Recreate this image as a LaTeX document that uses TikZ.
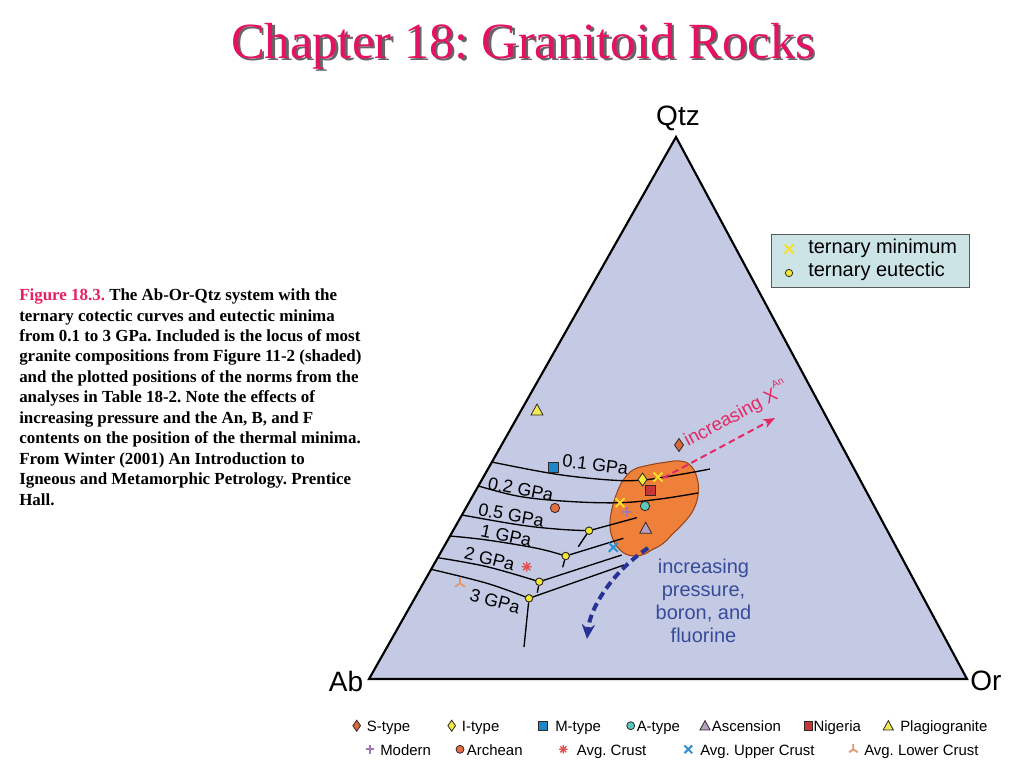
\documentclass[tikz,border=0pt]{standalone}
\usepackage{fontspec}
\setmainfont{Liberation Serif}
\setsansfont{Liberation Sans}
\usetikzlibrary{arrows.meta,shapes.geometric}
\frenchspacing
\definecolor{trifill}{RGB}{197,202,228}
\definecolor{blobfill}{RGB}{238,128,58}
\definecolor{blobline}{RGB}{150,70,30}
\definecolor{titlepink}{RGB}{228,18,98}
\definecolor{cappink}{RGB}{230,30,100}
\definecolor{anpink}{RGB}{228,40,100}
\definecolor{presblue}{RGB}{55,75,155}
\definecolor{arrowblue}{RGB}{40,50,150}
\definecolor{legbox}{RGB}{204,228,230}
\definecolor{dotyellow}{RGB}{240,232,50}
\definecolor{xyellow}{RGB}{245,225,40}
\definecolor{stype}{RGB}{215,105,60}
\definecolor{itype}{RGB}{240,235,60}
\definecolor{mtype}{RGB}{30,135,200}
\definecolor{atype}{RGB}{90,200,190}
\definecolor{ascfill}{RGB}{180,160,190}
\definecolor{nigeria}{RGB}{200,55,55}
\definecolor{plagio}{RGB}{238,234,80}
\definecolor{modern}{RGB}{160,120,180}
\definecolor{archean}{RGB}{225,110,65}
\definecolor{avgcrust}{RGB}{225,80,80}
\definecolor{upper}{RGB}{45,145,210}
\definecolor{lower}{RGB}{225,150,110}
\definecolor{mkline}{RGB}{50,40,40}
\tikzset{
  mk/.style={line width=0.6pt, draw=mkline},
  pics/diam/.style={code={\filldraw[mk,fill=#1] (0,-6.5)--(4.5,0)--(0,6.5)--(-4.5,0)--cycle;}},
  pics/sq/.style={code={\filldraw[mk,fill=#1] (-5,-5) rectangle (5,5);}},
  pics/circ/.style={code={\filldraw[mk,fill=#1] (0,0) circle[radius=3.5pt];}},
  pics/tri/.style={code={\filldraw[mk,fill=#1] (0,-6)--(6,5)--(-6,5)--cycle;}},
  pics/xm/.style={code={\draw[#1,line width=1.5pt] (-4.5,-4.5)--(4.5,4.5) (-4.5,4.5)--(4.5,-4.5);}},
  pics/plusm/.style={code={\draw[#1,line width=1.3pt] (-5,0)--(5,0) (0,-5)--(0,5);}},
  pics/astm/.style={code={\draw[#1,line width=1pt] (-5,0)--(5,0) (0,-5)--(0,5) (-3.6,-3.6)--(3.6,3.6) (-3.6,3.6)--(3.6,-3.6);}},
  pics/prong/.style={code={\draw[#1,line width=1.3pt] (0,0)--(0,-6) (0,0)--(-5,3.5) (0,0)--(5,3.5);}},
  eut/.style={circle, draw=mkline, fill=dotyellow, line width=0.6pt, inner sep=0pt, minimum size=5.5pt},
  cot/.style={line width=1pt, draw=black},
  gpa/.style={font=\sffamily\fontsize{13.5}{16}\selectfont, inner sep=0pt},
  vlab/.style={font=\sffamily\fontsize{21}{24}\selectfont, inner sep=0pt},
  capt/.style={font=\fontsize{12.7}{15.3}\selectfont\bfseries, inner sep=0pt, anchor=base west},
  legtxt/.style={font=\sffamily\fontsize{11.2}{13}\selectfont, inner sep=0pt, anchor=base west},
  boxtxt/.style={font=\sffamily\fontsize{15}{17}\selectfont, inner sep=0pt, anchor=base west},
  titletxt/.style={font=\fontsize{38}{42}\selectfont, inner sep=0pt, anchor=base},
  pinkarrow/.style={draw=anpink, line width=1.5pt, dash pattern=on 5pt off 3pt, -{Stealth[length=9pt,width=7pt]}},
  bluearrow/.style={draw=arrowblue, line width=3pt, dash pattern=on 6pt off 3.5pt, -{Stealth[length=11pt,width=10pt]}}
}
\begin{document}
\begin{tikzpicture}[x=0.75pt,y=-0.75pt]
\useasboundingbox[fill=white] (0,0) rectangle (1024,768);
% title
\node[titletxt, text=black!60] (titleshadow) at (525.5,60.5) {Chapter 18: Granitoid Rocks};
\node[titletxt, text=titlepink] (title) at (523,58) {Chapter 18: Granitoid Rocks};
% caption
\node[capt] (cap0) at (19,300.7) {\textcolor{cappink}{Figure 18.3.} The Ab-Or-Qtz system with the};
\foreach \ln [count=\i] in {{ternary cotectic curves and eutectic minima},
  {from 0.1 to 3 GPa. Included is the locus of most},
  {granite compositions from Figure 11-2 (shaded)},
  {and the plotted positions of the norms from the},
  {analyses in Table 18-2. Note the effects of},
  {increasing pressure and the An, B, and F},
  {contents on the position of the thermal minima.},
  {From Winter (2001) An Introduction to},
  {Igneous and Metamorphic Petrology. Prentice},
  {Hall.}}
  \node[capt] (cap\i) at (19,{300.7+\i*20.43}) {\ln};
% triangle
\coordinate (Ab) at (369,679);
\coordinate (Or) at (967,679);
\coordinate (Qtz) at (676,137);
\filldraw[fill=trifill, draw=black, line width=1.6pt] (Ab)--(Or)--(Qtz)--cycle;
\node[vlab] (labQtz) at (678,118) {Qtz};
\node[vlab] (labAb) at (346,681) {Ab};
\node[vlab] (labOr) at (986,681) {Or};
% granite blob
\filldraw[fill=blobfill, draw=blobline, line width=0.8pt] plot[smooth cycle, tension=0.7] coordinates {(633,470) (647,465.5) (667,462) (680,461) (690,465) (696.7,476.7) (698.3,493.3) (693.3,510) (683.3,523.3) (673.3,533.3) (663.3,543.3) (651.7,550) (641.7,555) (630,555.5) (620,550) (613.3,540) (610,526.7) (611.7,510) (616.7,493.3) (623.3,480)};
% eutectic points
\node[eut] (eC) at (589,530.7) {};
\node[eut] (eD) at (565.7,556) {};
\node[eut] (eE) at (539.3,581.7) {};
\node[eut] (eF) at (529,598.3) {};
\coordinate (cC) at (636.7,517.7); \coordinate (dC) at (578.3,546.7);
\coordinate (cD) at (623.3,538.3); \coordinate (dD) at (562.7,567.3);
\coordinate (cE) at (621.7,555);   \coordinate (dE) at (537.3,592.7);
\coordinate (cF) at (624,565);     \coordinate (dF) at (524,647);
% cotectic curves
\draw[cot] plot[smooth, tension=0.6] coordinates {(491.7,462) (555,474) (610,480) (643,480) (680,474.5) (710,469)};
\draw[cot] plot[smooth, tension=0.6] coordinates {(478.5,486) (520,496.5) (570,501.5) (620,502.7) (660,499) (698,493)};
\draw[cot] plot[smooth, tension=0.6] coordinates {(462,515) (520,525) (560,529.3) (eC)};
\draw[cot] plot[smooth, tension=0.6] coordinates {(450,536) (487,540) (537,548.3) (eD)};
\draw[cot] plot[smooth, tension=0.6] coordinates {(437.7,557.7) (487,566.7) (eE)};
\draw[cot] plot[smooth, tension=0.6] coordinates {(431.1,569.3) (487,583.3) (eF)};
\draw[cot] (eC) -- (cC); \draw[cot] (eC) -- (dC);
\draw[cot] (eD) -- (cD); \draw[cot] (eD) -- (dD);
\draw[cot] (eE) -- (cE); \draw[cot] (eE) -- (dE);
\draw[cot] (eF) -- (cF); \draw[cot] (eF) -- (dF);
\node[eut] at (eC) {};
\node[eut] at (eD) {};
\node[eut] at (eE) {};
\node[eut] at (eF) {};
% pressure labels
\node[gpa, rotate=-7] (g01) at (595.3,464.7) {0.1 GPa};
\node[gpa, rotate=-11] (g02) at (520.8,489.3) {0.2 GPa};
\node[gpa, rotate=-10] (g05) at (511.2,515) {0.5 GPa};
\node[gpa, rotate=-12] (g1) at (506.2,535.5) {1 GPa};
\node[gpa, rotate=-14] (g2) at (489.7,558.7) {2 GPa};
\node[gpa, rotate=-15] (g3) at (495,601) {3 GPa};
% data markers
\pic at (679,445) {diam=stype};
\pic at (537,410) {tri=plagio};
\pic at (553,467) {sq=mtype};
\pic at (642.5,479.5) {diam=itype};
\pic at (658,477) {xm=xyellow};
\pic at (650,490) {sq=nigeria};
\pic at (620,502.7) {xm=xyellow};
\pic at (555,508) {circ=archean};
\pic at (645,506) {circ=atype};
\pic at (626.7,511.7) {plusm=modern};
\pic at (645.7,528.3) {tri=ascfill};
\pic at (613.3,547.3) {xm=upper};
\pic at (526.7,566.7) {astm=avgcrust};
\pic at (460,583.3) {prong=lower};
% arrows
\coordinate (anS) at (663,478);
\coordinate (anE) at (775,418);
\draw[pinkarrow] (anS) -- (anE);
\node[font=\sffamily\fontsize{14}{16}\selectfont, text=anpink, inner sep=0pt, anchor=base west, rotate=28] (anlab) at (688,447) {increasing X\raisebox{0.6em}{\fontsize{7.5}{8}\selectfont An}};
\coordinate (bS) at (648,548);
\coordinate (bE) at (587,639);
\draw[bluearrow] (bS) .. controls (612,572) and (590,608) .. (bE);
\node[font=\sffamily\fontsize{15}{17.1}\selectfont, text=presblue, align=center, inner sep=0pt] (preslab) at (703.5,601) {increasing\\pressure,\\boron, and\\fluorine};
% legend box
\filldraw[fill=legbox, draw=black!65, line width=0.9pt] (771.7,234.3) rectangle (969.3,287.7);
\pic at (789,249) {xm=xyellow};
\node[eut] (legeut) at (789,273) {};
\node[boxtxt] (lbmin) at (808,253.5) {ternary minimum};
\node[boxtxt] (lbeut) at (808,276.5) {ternary eutectic};
% bottom legend row 1
\pic[scale=0.85] at (356.7,725.7) {diam=stype};
\node[legtxt] (l1) at (366.7,731.5) {S-type};
\pic[scale=0.85] at (451.7,725.7) {diam=itype};
\node[legtxt] (l2) at (461.7,731.5) {I-type};
\pic[scale=0.85] at (542.7,725.7) {sq=mtype};
\node[legtxt] (l3) at (555,731.5) {M-type};
\pic[scale=0.85] at (630.7,725.7) {circ=atype};
\node[legtxt] (l4) at (636.5,731.5) {A-type};
\pic[scale=0.85] at (705,725.7) {tri=ascfill};
\node[legtxt] (l5) at (711.7,731.5) {Ascension};
\pic[scale=0.85] at (808.3,725.7) {sq=nigeria};
\node[legtxt] (l6) at (813.3,731.5) {Nigeria};
\pic[scale=0.85] at (888.3,725.7) {tri=plagio};
\node[legtxt] (l7) at (900,731.5) {Plagiogranite};
% bottom legend row 2
\pic[scale=0.85] at (370,749.3) {plusm=modern};
\node[legtxt] (l8) at (380,755) {Modern};
\pic[scale=0.85] at (460,749.3) {circ=archean};
\node[legtxt] (l9) at (466.7,755) {Archean};
\pic[scale=0.85] at (563.3,749.3) {astm=avgcrust};
\node[legtxt] (l10) at (576.7,755) {Avg. Crust};
\pic[scale=0.85] at (688.3,749.3) {xm=upper};
\node[legtxt] (l11) at (700,755) {Avg. Upper Crust};
\pic[scale=0.85] at (853.3,749.3) {prong=lower};
\node[legtxt] (l12) at (864,755) {Avg. Lower Crust};
\end{tikzpicture}
\end{document}
